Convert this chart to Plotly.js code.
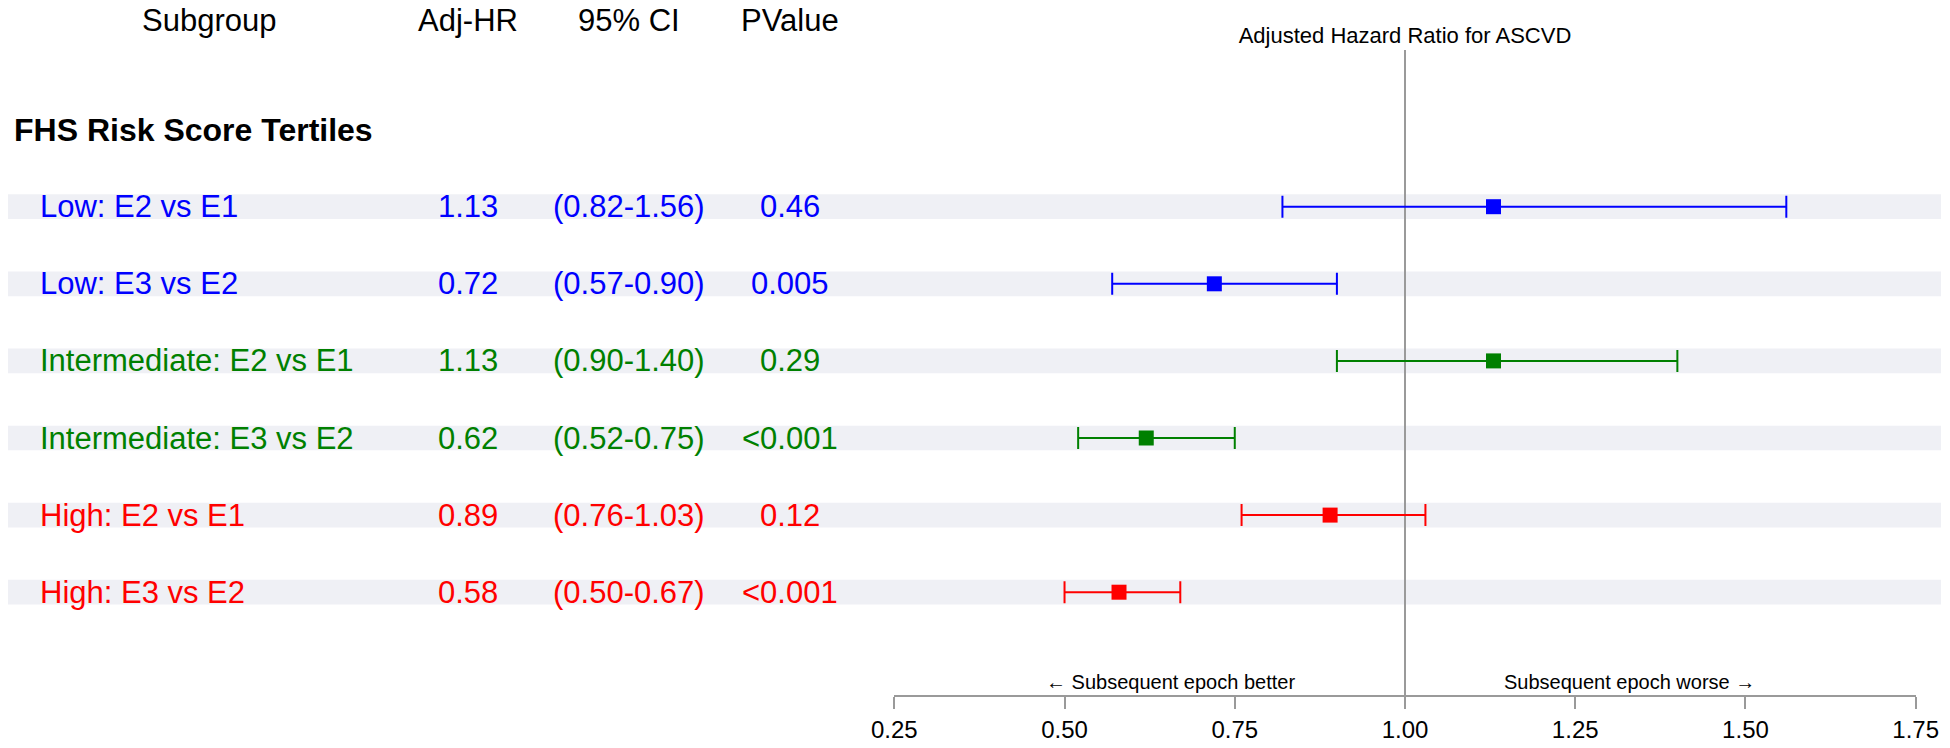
<!DOCTYPE html>
<html>
<head>
<meta charset="utf-8">
<script src="https://cdn.plot.ly/plotly-3.0.1.min.js"></script>
<style>html,body{margin:0;padding:0;background:#fff;}#chart{width:1950px;height:748px;}</style>
</head>
<body>
<div id="chart"></div>
<script>
// ---- Data ----
const subgroups = ['Low: E2 vs E1', 'Low: E3 vs E2', 'Intermediate: E2 vs E1', 'Intermediate: E3 vs E2', 'High: E2 vs E1', 'High: E3 vs E2'];
const adjHR = [1.13, 0.72, 1.13, 0.62, 0.89, 0.58];
const ciLow = [0.82, 0.57, 0.90, 0.52, 0.76, 0.50];
const ciHigh = [1.56, 0.90, 1.40, 0.75, 1.03, 0.67];
const pValues = ['0.46', '0.005', '0.29', '<0.001', '0.12', '<0.001'];
const rowColors = ['#0000ff', '#0000ff', '#008000', '#008000', '#ff0000', '#ff0000'];
const columnHeaders = ['Subgroup', 'Adj-HR', '95% CI', 'PValue'];
const sectionTitle = 'FHS Risk Score Tertiles';
const xTicks = [0.25, 0.50, 0.75, 1.00, 1.25, 1.50, 1.75];

// ---- Layout helpers ----
const W = 1950, H = 748;
const FONT = 'Liberation Sans, Arial, Helvetica, sans-serif';
const px = v => v / W;
const colX = [209, 468, 629, 790];   // header / column centers (px)
const labelX = 38;                    // row label left edge (px)

const traces = subgroups.map((g, i) => ({
  type: 'scatter', mode: 'markers',
  x: [adjHR[i]], y: [i],
  marker: {symbol: 'square', size: 15, color: rowColors[i]},
  error_x: {
    type: 'data', symmetric: false,
    array: [ciHigh[i] - adjHR[i]], arrayminus: [adjHR[i] - ciLow[i]],
    color: rowColors[i], thickness: 2, width: 11
  },
  showlegend: false, hoverinfo: 'skip', cliponaxis: false
}));

const shapes = [];
subgroups.forEach((g, i) => {
  shapes.push({type: 'rect', xref: 'paper', yref: 'y', x0: px(8), x1: px(1941),
    y0: i - 0.16, y1: i + 0.16, fillcolor: '#eff0f5', line: {width: 0}, layer: 'below'});
});
shapes.push({type: 'line', xref: 'x', yref: 'paper', x0: 1, x1: 1,
  y0: 1 - 695 / H, y1: 1 - 50 / H, line: {color: '#9a9a9a', width: 2}, layer: 'below'});

const annotations = [];
columnHeaders.forEach((h, k) => {
  annotations.push({xref: 'paper', yref: 'y', x: px(colX[k]), y: -2.42, text: h, showarrow: false,
    xanchor: 'center', yanchor: 'middle', font: {family: FONT, size: 31, color: '#000'}});
});
annotations.push({xref: 'paper', yref: 'y', x: px(12), y: -1.0, text: '<b>' + sectionTitle + '</b>', showarrow: false,
  xanchor: 'left', yanchor: 'middle', font: {family: FONT, size: 32, color: '#000'}});
subgroups.forEach((g, i) => {
  const f = {family: FONT, size: 31, color: rowColors[i]};
  annotations.push({xref: 'paper', yref: 'y', x: px(labelX), y: i, text: g, showarrow: false, xanchor: 'left', yanchor: 'middle', font: f});
  annotations.push({xref: 'paper', yref: 'y', x: px(colX[1]), y: i, text: adjHR[i].toFixed(2), showarrow: false, xanchor: 'center', yanchor: 'middle', font: f});
  annotations.push({xref: 'paper', yref: 'y', x: px(colX[2]), y: i, text: '(' + ciLow[i].toFixed(2) + '-' + ciHigh[i].toFixed(2) + ')', showarrow: false, xanchor: 'center', yanchor: 'middle', font: f});
  annotations.push({xref: 'paper', yref: 'y', x: px(colX[3]), y: i, text: pValues[i], showarrow: false, xanchor: 'center', yanchor: 'middle', font: f});
});
annotations.push({xref: 'x', yref: 'paper', x: 0.655, y: 1 - 682 / H, text: '\u2190 Subsequent epoch better', showarrow: false,
  xanchor: 'center', yanchor: 'middle', font: {family: FONT, size: 20, color: '#000'}});
annotations.push({xref: 'x', yref: 'paper', x: 1.329, y: 1 - 682 / H, text: 'Subsequent epoch worse \u2192', showarrow: false,
  xanchor: 'center', yanchor: 'middle', font: {family: FONT, size: 20, color: '#000'}});

const rowPx0 = 206.7, rowStep = 77.1;
const layout = {
  width: W, height: H,
  margin: {l: 0, r: 0, t: 0, b: 0, pad: 0},
  paper_bgcolor: '#fff', plot_bgcolor: 'rgba(0,0,0,0)',
  title: {text: 'Adjusted Hazard Ratio for ASCVD', xref: 'paper', yref: 'paper', x: px(1405), y: 1 - 35 / H,
    xanchor: 'center', yanchor: 'middle', font: {family: FONT, size: 22, color: '#000'}},
  xaxis: {
    domain: [px(894.3), px(1915.7)], range: [0.25, 1.75],
    showgrid: false, zeroline: false,
    showline: true, linecolor: '#9a9a9a', linewidth: 2,
    ticks: 'outside', ticklen: 12, tickwidth: 2, tickcolor: '#9a9a9a',
    tickmode: 'array', tickvals: xTicks, ticktext: xTicks.map(v => v.toFixed(2)),
    tickfont: {family: FONT, size: 24, color: '#000'}
  },
  yaxis: {
    domain: [1 - 695 / H, 1],
    range: [(695 - rowPx0) / rowStep, (0 - rowPx0) / rowStep],
    showgrid: false, zeroline: false, showline: false, showticklabels: false, ticks: ''
  },
  shapes: shapes, annotations: annotations,
  showlegend: false, hovermode: false
};

Plotly.newPlot('chart', traces, layout, {staticPlot: true, displayModeBar: false});
</script>
</body>
</html>
